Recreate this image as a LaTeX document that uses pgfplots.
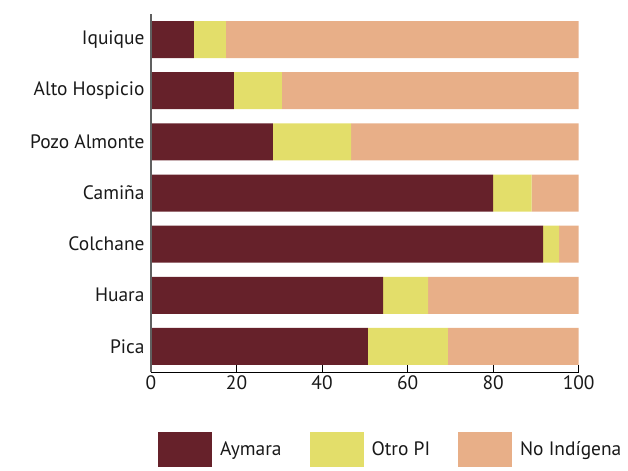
\documentclass[border=0pt]{standalone}
\usepackage{fontspec}
\setmainfont{PT Sans}
\usepackage{pgfplots}
\pgfplotsset{compat=1.18}
\usepackage{pgfplotstable}
\definecolor{aym}{HTML}{66212A}
\definecolor{otro}{HTML}{E3DE6A}
\definecolor{noind}{HTML}{E8AF88}
\pgfplotstableread{
pos aym otro noind
6 10.0 7.5 82.5
5 19.4 11.2 69.4
4 28.5 18.3 53.2
3 80.0 9.0 11.0
2 91.7 3.7 4.6
1 54.3 10.5 35.2
0 50.7 18.7 30.6
}\datatab
\begin{document}
\begin{tikzpicture}
\useasboundingbox (0,0) rectangle (628bp,471bp);
\begin{axis}[
  at={(151bp,99bp)}, anchor=south west,
  width=427.7bp, height=358bp, scale only axis,
  xbar stacked, bar width=37bp,
  xmin=0, xmax=100, ymin=-0.5, ymax=6.5,
  axis x line*=bottom, axis y line*=left,
  axis on top,
  xtick={0,20,40,60,80,100},
  tick align=inside,
  major tick length=7bp,
  x tick style={black, line width=0.8bp},
  ytick={0,1,2,3,4,5,6},
  yticklabels={Pica,Huara,Colchane,Camiña,Pozo Almonte,Alto Hospicio,Iquique},
  y tick style={draw=none},
  yticklabel style={xshift=-3bp},
  x axis line style={black, line width=1bp},
  y axis line style={gray!75!black, line width=1.5bp},
  tick label style={font=\fontsize{19.5}{22}\selectfont, text=black!90},
  /pgf/number format/assume math mode=true,
  legend columns=3,
  legend style={draw=none, at={(0.0164,-0.1676)}, anchor=north west,
    inner sep=0pt, font=\fontsize{19.5}{22}\selectfont, text=black!90,
    /tikz/every odd column/.append style={column sep=6bp},
    /tikz/every even column/.append style={column sep=26bp}},
  legend image code/.code={\fill[#1] (0bp,-17.5bp) rectangle (54bp,17.5bp);},
]
\addplot[fill=aym, draw=none] table[x=aym, y=pos] {\datatab};
\addplot[fill=otro, draw=none] table[x=otro, y=pos] {\datatab};
\addplot[fill=noind, draw=none] table[x=noind, y=pos] {\datatab};
\legend{Aymara, Otro PI, No Indígena}
\end{axis}
\end{tikzpicture}
\end{document}
